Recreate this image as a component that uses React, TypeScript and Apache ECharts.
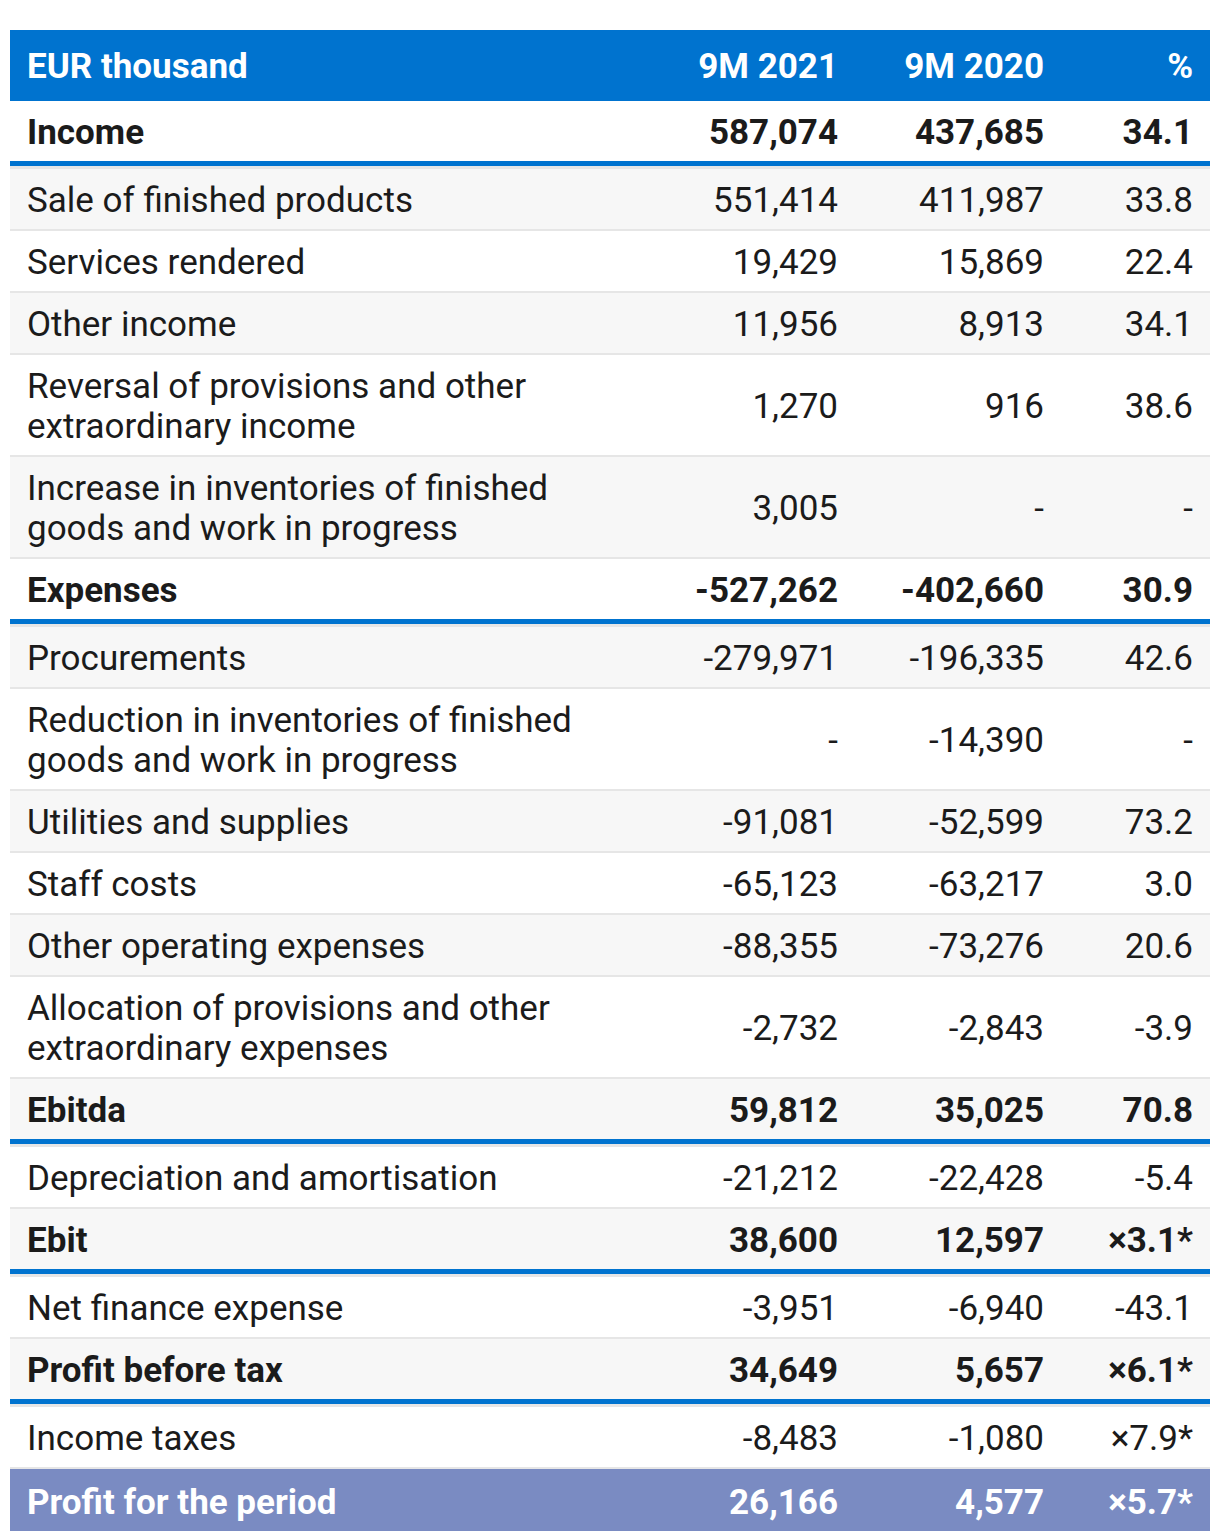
import React, { useEffect, useRef } from "react";
import * as echarts from "echarts";

const headers = ["EUR thousand", "9M 2021", "9M 2020", "%"];

const rowLabels = [
  "Income",
  "Sale of finished products",
  "Services rendered",
  "Other income",
  "Reversal of provisions and other\nextraordinary income",
  "Increase in inventories of finished\ngoods and work in progress",
  "Expenses",
  "Procurements",
  "Reduction in inventories of finished\ngoods and work in progress",
  "Utilities and supplies",
  "Staff costs",
  "Other operating expenses",
  "Allocation of provisions and other\nextraordinary expenses",
  "Ebitda",
  "Depreciation and amortisation",
  "Ebit",
  "Net finance expense",
  "Profit before tax",
  "Income taxes",
  "Profit for the period",
];

const values2021 = [
  "587,074", "551,414", "19,429", "11,956", "1,270", "3,005",
  "-527,262", "-279,971", "-", "-91,081", "-65,123", "-88,355", "-2,732",
  "59,812", "-21,212", "38,600", "-3,951", "34,649", "-8,483", "26,166",
];

const values2020 = [
  "437,685", "411,987", "15,869", "8,913", "916", "-",
  "-402,660", "-196,335", "-14,390", "-52,599", "-63,217", "-73,276", "-2,843",
  "35,025", "-22,428", "12,597", "-6,940", "5,657", "-1,080", "4,577",
];

const pctChange = [
  "34.1", "33.8", "22.4", "34.1", "38.6", "-",
  "30.9", "42.6", "-", "73.2", "3.0", "20.6", "-3.9",
  "70.8", "-5.4", "×3.1*", "-43.1", "×6.1*", "×7.9*", "×5.7*",
];

const totalRows = ["Income", "Expenses", "Ebitda", "Ebit", "Profit before tax", "Profit for the period"];

const BLUE = "#0073CF";
const PURPLE = "#7A8BC2";
const TEXT = "#1b1b1b";
const GRAY_BG = "#f7f7f7";
const SEP = "#e6e6e6";
const FONT_FAMILY = "Roboto, 'Noto Sans', sans-serif";
const FS = 35;

function buildGraphics() {
  const els: any[] = [];
  const left = 10;
  const width = 1200;
  const labelX = 27;
  const colX = [838, 1044, 1193];

  // header
  els.push({ type: "rect", shape: { x: left, y: 30, width, height: 71 }, style: { fill: BLUE } });
  const hy = 66;
  els.push({
    type: "text",
    style: { text: headers[0], x: labelX, y: hy, align: "left", verticalAlign: "middle", fill: "#fff", font: `bold ${FS}px ${FONT_FAMILY}` },
  });
  for (let c = 1; c < 4; c++) {
    els.push({
      type: "text",
      style: { text: headers[c], x: colX[c - 1], y: hy, align: "right", verticalAlign: "middle", fill: "#fff", font: `bold ${FS}px ${FONT_FAMILY}` },
    });
  }

  let y = 101;
  const n = rowLabels.length;
  for (let i = 0; i < n; i++) {
    const label = rowLabels[i];
    const isTotal = totalRows.indexOf(label) >= 0;
    const isLast = i === n - 1;
    const twoLine = label.indexOf("\n") >= 0;
    const h = twoLine ? 100 : 60;
    let bg = i % 2 === 0 ? "#ffffff" : GRAY_BG;
    if (isLast) bg = PURPLE;
    const rowH = isLast ? 62 : h;
    els.push({ type: "rect", shape: { x: left, y, width, height: rowH }, style: { fill: bg } });
    const cy = y + (isLast ? 32 : h / 2) + 1;
    const color = isLast ? "#ffffff" : TEXT;
    const font = `${isTotal ? "bold " : ""}${FS}px ${FONT_FAMILY}`;
    els.push({
      type: "text",
      style: { text: label, x: labelX, y: cy, align: "left", verticalAlign: "middle", fill: color, font, lineHeight: 40 },
    });
    const vals = [values2021[i], values2020[i], pctChange[i]];
    for (let c = 0; c < 3; c++) {
      els.push({
        type: "text",
        style: { text: vals[c], x: colX[c], y: cy, align: "right", verticalAlign: "middle", fill: color, font },
      });
    }
    y += h;
    if (isLast) break;
    if (isTotal) {
      els.push({ type: "rect", shape: { x: left, y, width, height: 5 }, style: { fill: BLUE } });
      els.push({ type: "rect", shape: { x: left, y: y + 5, width, height: 3 }, style: { fill: SEP } });
      y += 8;
    } else {
      els.push({ type: "rect", shape: { x: left, y, width, height: 2 }, style: { fill: SEP } });
      y += 2;
    }
  }
  return els;
}

export default function App() {
  const ref = useRef<HTMLDivElement>(null);
  useEffect(() => {
    if (!ref.current) return;
    const chart = echarts.init(ref.current, undefined, { renderer: "svg" });
    chart.setOption({
      animation: false,
      backgroundColor: "#ffffff",
      graphic: { elements: buildGraphics() },
    });
    return () => chart.dispose();
  }, []);
  return (
    <div
      ref={ref}
      style={{ position: "absolute", left: 0, top: 0, width: 1220, height: 1540 }}
    />
  );
}
